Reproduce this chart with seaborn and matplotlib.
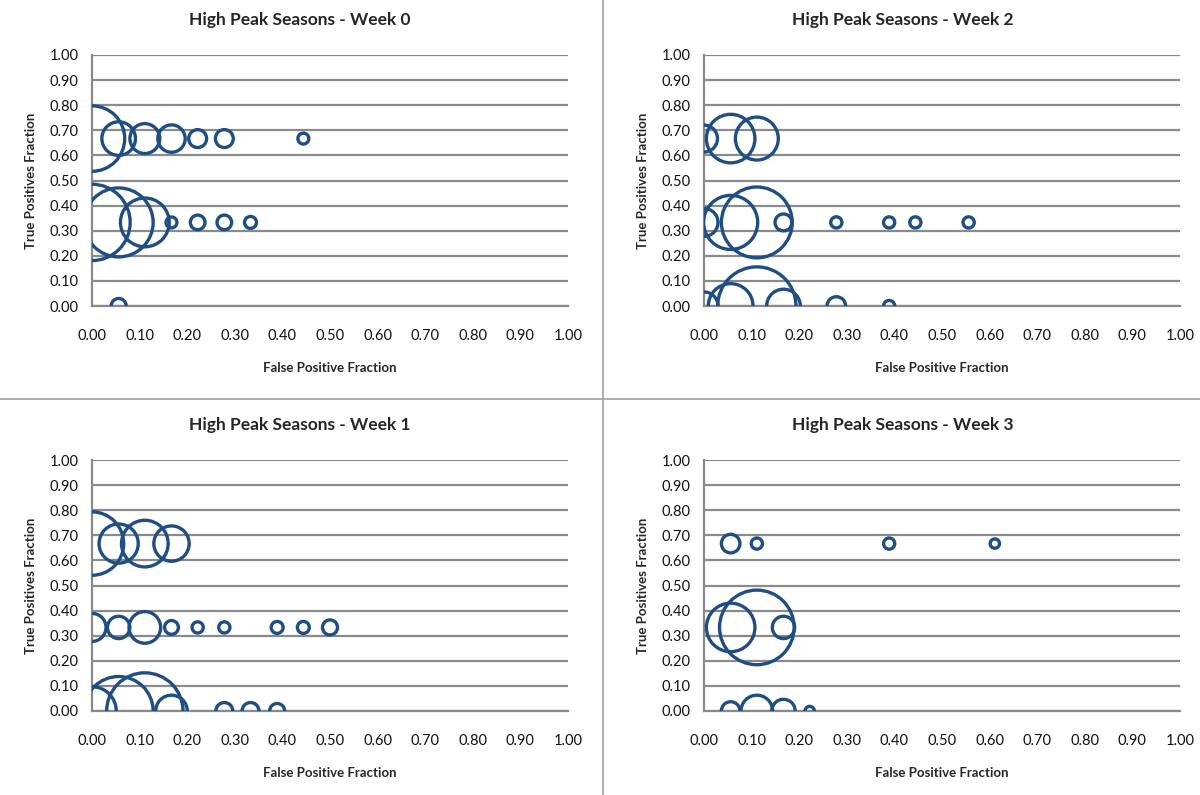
import pandas as pd
import matplotlib
matplotlib.use("Agg")
import matplotlib.pyplot as plt
from matplotlib.lines import Line2D
import seaborn as sns

# bubbles: false positive fraction, true positive fraction, bubble size
week0_fpf = [0.0, 0.056, 0.111, 0.167, 0.222, 0.278, 0.444,
             0.0, 0.056, 0.111, 0.167, 0.222, 0.278, 0.333,
             0.056]
week0_tpf = [0.667, 0.667, 0.667, 0.667, 0.667, 0.667, 0.667,
             0.333, 0.333, 0.333, 0.333, 0.333, 0.333, 0.333,
             0.0]
week0_size = [36, 9.5, 7.5, 6.3, 2.7, 2.7, 1,
              49, 40, 20, 1, 1.8, 1.8, 1.2,
              1.9]

week1_fpf = [0.0, 0.056, 0.111, 0.167,
             0.0, 0.056, 0.111, 0.167, 0.222, 0.278, 0.389, 0.444, 0.5,
             0.0, 0.056, 0.111, 0.167, 0.278, 0.333, 0.389]
week1_tpf = [0.667, 0.667, 0.667, 0.667,
             0.333, 0.333, 0.333, 0.333, 0.333, 0.333, 0.333, 0.333, 0.333,
             0.0, 0.0, 0.0, 0.0, 0.0, 0.0, 0.0]
week1_size = [33.8, 12.9, 18.3, 10.5,
              6.6, 4.2, 8.4, 1.6, 1.05, 1.05, 1.2, 1.2, 1.9,
              19.8, 40, 49, 8.4, 2.4, 2.4, 1.9]

week2_fpf = [0.0, 0.056, 0.111,
             0.0, 0.056, 0.111, 0.167, 0.278, 0.389, 0.444, 0.556,
             0.0, 0.056, 0.111, 0.167, 0.278, 0.389]
week2_tpf = [0.667, 0.667, 0.667,
             0.333, 0.333, 0.333, 0.333, 0.333, 0.333, 0.333, 0.333,
             0.0, 0.0, 0.0, 0.0, 0.0, 0.0]
week2_size = [6.1, 19.8, 15.5,
              6.6, 24.6, 42.2, 2.4, 1.05, 1.05, 1.05, 1.05,
              6.6, 16.8, 51.5, 9.5, 2.9, 1.05]

week3_fpf = [0.056, 0.111, 0.389, 0.611,
             0.056, 0.111, 0.167,
             0.056, 0.111, 0.167, 0.222]
week3_tpf = [0.667, 0.667, 0.667, 0.667,
             0.333, 0.333, 0.333,
             0.0, 0.0, 0.0, 0.0]
week3_size = [2.9, 1.05, 1.05, 0.73,
              19.8, 46.8, 4.2,
              2.9, 8.4, 4.6, 0.73]

ticks = [0.0, 0.1, 0.2, 0.3, 0.4, 0.5, 0.6, 0.7, 0.8, 0.9, 1.0]
tick_labels = ["0.00", "0.10", "0.20", "0.30", "0.40", "0.50",
               "0.60", "0.70", "0.80", "0.90", "1.00"]

BLUE = "#1f4e83"
GRID = "#8a8a8a"

sns.set_style("white")
plt.rcParams["font.family"] = ["Lato", "DejaVu Sans"]

fig = plt.figure(figsize=(12, 7.95), dpi=100)
W, H = 1200, 795

# (title, x, y, size, axes left px, axes top px, panel centre px)
panels = [
    ("High Peak Seasons - Week 0", week0_fpf, week0_tpf, week0_size, 92, 55, 300),
    ("High Peak Seasons - Week 2", week2_fpf, week2_tpf, week2_size, 704, 55, 903),
    ("High Peak Seasons - Week 1", week1_fpf, week1_tpf, week1_size, 92, 460, 300),
    ("High Peak Seasons - Week 3", week3_fpf, week3_tpf, week3_size, 704, 460, 903),
]

for title, fpf, tpf, size, left, top, centre in panels:
    ax = fig.add_axes([left / W, 1 - (top + 251) / H, 476 / W, 251 / H])
    df = pd.DataFrame({"fpf": fpf, "tpf": tpf, "size": size})
    sns.scatterplot(data=df, x="fpf", y="tpf", size="size",
                    sizes=(0, 3700), size_norm=(0, 60), legend=False,
                    color=BLUE, facecolor="none", edgecolor=BLUE,
                    linewidth=2.4, ax=ax, zorder=3)
    ax.set_xlim(0, 1)
    ax.set_ylim(0, 1)
    ax.set_xticks(ticks)
    ax.set_xticklabels(tick_labels)
    ax.set_yticks(ticks)
    ax.set_yticklabels(tick_labels)
    ax.grid(axis="y", color=GRID, linewidth=1.6)
    ax.grid(axis="x", visible=False)
    ax.set_axisbelow(True)
    for side in ["top", "right"]:
        ax.spines[side].set_visible(False)
    for side in ["left", "bottom"]:
        ax.spines[side].set_color(GRID)
        ax.spines[side].set_linewidth(1.6)
    ax.tick_params(axis="both", direction="out", length=4.5, width=1.2,
                   color=GRID, labelsize=10.5, labelcolor="#111111")
    ax.tick_params(axis="y", pad=5)
    ax.tick_params(axis="x", pad=12)
    ax.set_xlabel("False Positive Fraction", fontsize=9.5, fontweight="bold")
    ax.set_ylabel("True Positives Fraction", fontsize=9.5, fontweight="bold")
    ax.xaxis.set_label_coords(0.5, -0.225)
    ax.yaxis.set_label_coords(-0.115, 0.5)
    fig.text(centre / W, 1 - (top - 35) / H, title, ha="center", va="center",
             fontsize=12.5, fontweight="bold")

# separators between the four charts
fig.add_artist(Line2D([603 / W, 603 / W], [0, 1], transform=fig.transFigure,
                      color="#a8a8a8", linewidth=1.3))
fig.add_artist(Line2D([0, 1], [1 - 399 / H, 1 - 399 / H], transform=fig.transFigure,
                      color="#a8a8a8", linewidth=1.3))

fig.savefig("out.png", dpi=100)
